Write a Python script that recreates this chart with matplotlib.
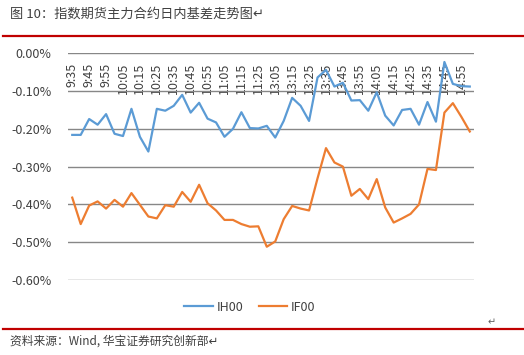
import numpy as np
import matplotlib
matplotlib.use("Agg")
import matplotlib.pyplot as plt
from matplotlib.lines import Line2D

plt.rcParams['font.family'] = ['Noto Sans CJK SC', 'DejaVu Sans']

# ---- data ----
times_am = ["9:35", "9:40", "9:45", "9:50", "9:55", "10:00", "10:05", "10:10",
            "10:15", "10:20", "10:25", "10:30", "10:35", "10:40", "10:45", "10:50",
            "10:55", "11:00", "11:05", "11:10", "11:15", "11:20", "11:25", "11:30"]
times_pm = ["13:05", "13:10", "13:15", "13:20", "13:25", "13:30", "13:35", "13:40",
            "13:45", "13:50", "13:55", "14:00", "14:05", "14:10", "14:15", "14:20",
            "14:25", "14:30", "14:35", "14:40", "14:45", "14:50", "14:55", "15:00"]
times = times_am + times_pm

ih00 = [-0.216, -0.216, -0.174, -0.189, -0.161, -0.213, -0.219, -0.147,
        -0.221, -0.260, -0.147, -0.152, -0.139, -0.110, -0.157, -0.131,
        -0.173, -0.183, -0.221, -0.200, -0.156, -0.198, -0.199, -0.192,
        -0.223, -0.179, -0.118, -0.139, -0.179, -0.064, -0.044, -0.088,
        -0.078, -0.125, -0.124, -0.152, -0.103, -0.165, -0.191, -0.150,
        -0.147, -0.189, -0.129, -0.181, -0.023, -0.081, -0.087, -0.088]

if00 = [-0.382, -0.452, -0.403, -0.392, -0.411, -0.388, -0.406, -0.370,
        -0.401, -0.432, -0.437, -0.402, -0.406, -0.367, -0.393, -0.348,
        -0.397, -0.416, -0.441, -0.441, -0.452, -0.459, -0.458, -0.512,
        -0.498, -0.439, -0.404, -0.411, -0.416, -0.331, -0.251, -0.289,
        -0.300, -0.377, -0.359, -0.386, -0.333, -0.408, -0.448, -0.437,
        -0.425, -0.400, -0.306, -0.309, -0.157, -0.132, -0.168, -0.207]

y_ticks = [0.0, -0.1, -0.2, -0.3, -0.4, -0.5, -0.6]

title = "图 10：指数期货主力合约日内基差走势图↵"
source = "资料来源：Wind, 华宝证券研究创新部↵"

# ---- figure ----
fig = plt.figure(figsize=(5.24, 3.55), dpi=100)
ax = fig.add_axes([0.1298, 0.2113, 0.7748, 0.6386])

x = np.arange(len(times))
ax.plot(x, ih00, color="#5B9BD5", lw=1.6, label="IH00")
ax.plot(x, if00, color="#ED7D31", lw=1.6, label="IF00")

ax.set_xlim(-0.5, len(times) - 0.5)
ax.set_ylim(-0.6, 0.0)
ax.set_yticks(y_ticks)
ax.set_yticklabels([f"{v:.2f}%" for v in y_ticks], fontsize=9, color="#404040")
ax.yaxis.grid(True, color="#878787", lw=1)
ax.set_axisbelow(True)

# category axis crosses at zero, labels hang below it
ax.spines['bottom'].set_position(('data', 0))
for s in ax.spines.values():
    s.set_visible(False)
ax.set_xticks(x[::2])
ax.set_xticklabels(times[::2], rotation=90, fontsize=9, color="#404040")
ax.tick_params(axis='x', length=0, pad=7)
ax.tick_params(axis='y', length=0, pad=12)

fig.legend(handles=[Line2D([], [], color="#5B9BD5", lw=1.6),
                    Line2D([], [], color="#ED7D31", lw=1.6)],
           labels=["IH00", "IF00"], loc="center", bbox_to_anchor=(0.477, 0.135),
           ncol=2, frameon=False, fontsize=9, handlelength=2.3,
           columnspacing=1.2, handletextpad=0.3, labelcolor="#404040")

# header / footer
fig.text(10 / 524, 1 - 14 / 355, title, fontsize=9.5, color="#404040", va="center")
fig.add_artist(Line2D([3 / 524, 1], [1 - 36 / 355] * 2, color="#C00000", lw=1.6))
fig.add_artist(Line2D([3 / 524, 1], [1 - 329 / 355] * 2, color="#C00000", lw=1.6))
fig.text(492 / 524, 1 - 322 / 355, "↵", fontsize=7, color="#606060", ha="center", va="center")
fig.text(10 / 524, 1 - 341 / 355, source, fontsize=8.5, color="#404040", va="center")

fig.savefig("out.png", dpi=100)
